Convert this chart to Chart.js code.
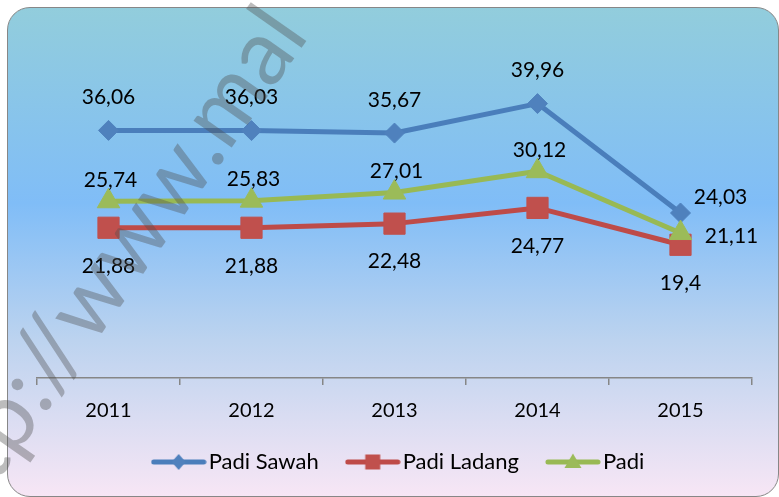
<!DOCTYPE html>
<html lang="id">
<head>
<meta charset="utf-8">
<title>Produktivitas Padi 2011-2015</title>
<script src="https://cdn.jsdelivr.net/npm/chart.js@4.4.1/dist/chart.umd.min.js"></script>
<style>
    html, body { margin: 0; padding: 0; background: #ffffff; }
    .wrap { position: relative; width: 779px; height: 497px; overflow: hidden; }
    .bingkai {
        position: absolute;
        left: 7px;
        top: 7px;
        width: 772px;
        height: 490px;
        box-sizing: border-box;
        border: 1.5px solid #878787;
        border-radius: 23px;
        background: linear-gradient(to bottom, #92cddc 0%, #80bdf7 40%, #bcd3ef 68%, #f7e6f5 100%);
    }
    #grafik { position: absolute; left: 0; top: 0; }
</style>
</head>
<body>
<div class="wrap">
    <div class="bingkai"></div>
    <canvas id="grafik" width="779" height="497"></canvas>
</div>
<script>
// Data grafik
const tahun = ['2011', '2012', '2013', '2014', '2015'];
const padiSawah = [36.06, 36.03, 35.67, 39.96, 24.03];
const padiLadang = [21.88, 21.88, 22.48, 24.77, 19.4];
const padi = [25.74, 25.83, 27.01, 30.12, 21.11];

const FONT = 'Lato';

// Angka pakai koma desimal
function formatKoma(v) {
    return String(v).replace('.', ',');
}

// Ikon legenda: garis dengan penanda di tengah
function buatIkon(warnaGaris, warnaTanda, bentuk) {
    const c = document.createElement('canvas');
    c.width = 56;
    c.height = 22;
    const g = c.getContext('2d');
    g.strokeStyle = warnaGaris;
    g.lineWidth = 5;
    g.lineCap = 'round';
    g.beginPath();
    g.moveTo(3, 11);
    g.lineTo(53, 11);
    g.stroke();
    g.fillStyle = warnaTanda;
    g.beginPath();
    if (bentuk === 'diamond') {
        g.moveTo(28, 3); g.lineTo(35, 11); g.lineTo(28, 19); g.lineTo(21, 11);
    } else if (bentuk === 'square') {
        g.rect(20.5, 3.5, 15, 15);
    } else {
        g.moveTo(28, 2.5); g.lineTo(36.5, 17); g.lineTo(19.5, 17);
    }
    g.closePath();
    g.fill();
    return c;
}

const ikonLegenda = [
    buatIkon('#4a7ebb', '#4f81bd', 'diamond'),
    buatIkon('#be4b48', '#c0504d', 'square'),
    buatIkon('#98b954', '#9bbb59', 'triangle')
];

// Label nilai di tiap titik
const labelNilai = {
    id: 'labelNilai',
    afterDatasetsDraw(chart, args, opts) {
        const ctx = chart.ctx;
        ctx.save();
        ctx.font = '21px ' + FONT;
        ctx.fillStyle = '#000000';
        ctx.textAlign = 'center';
        ctx.textBaseline = 'middle';
        chart.data.datasets.forEach((ds, i) => {
            const meta = chart.getDatasetMeta(i);
            const pos = opts.posisi[i];
            meta.data.forEach((pt, j) => {
                const off = (j === meta.data.length - 1 && pos.akhir) ? pos.akhir : pos.umum;
                ctx.fillText(formatKoma(ds.data[j]), pt.x + off.dx, pt.y + off.dy);
            });
        });
        ctx.restore();
    }
};

// Legenda di bawah: ikon garis + nama seri
const legendaBawah = {
    id: 'legendaBawah',
    afterDraw(chart, args, opts) {
        const ctx = chart.ctx;
        ctx.save();
        ctx.font = '22px ' + FONT;
        ctx.fillStyle = '#000000';
        ctx.textBaseline = 'middle';
        ctx.textAlign = 'left';
        const items = chart.data.datasets.map((ds, i) => ({
            teks: ds.label,
            ikon: ikonLegenda[i],
            lebar: 54 + opts.celah + ctx.measureText(ds.label).width
        }));
        const total = items.reduce((a, it) => a + it.lebar, 0) + opts.jarak * (items.length - 1);
        let x = opts.tengah - total / 2;
        items.forEach(it => {
            ctx.drawImage(it.ikon, x - 1, opts.y - 11);
            ctx.fillText(it.teks, x + 54 + opts.celah, opts.y);
            x += it.lebar + opts.jarak;
        });
        ctx.restore();
    }
};

// Tanda air miring di atas grafik
const tandaAir = {
    id: 'tandaAir',
    afterDraw(chart) {
        const ctx = chart.ctx;
        ctx.save();
        ctx.font = '92px ' + FONT;
        ctx.fillStyle = 'rgba(80, 80, 80, 0.38)';
        ctx.textBaseline = 'alphabetic';
        ctx.textAlign = 'left';
        ctx.translate(223, 160);
        ctx.rotate(-55 * Math.PI / 180);
        const kiri = ctx.measureText('http://www').width + ctx.measureText('.').width / 2;
        ctx.fillText('http://www.mal', -kiri, 0);
        ctx.restore();
    }
};

const ctx = document.getElementById('grafik').getContext('2d');
new Chart(ctx, {
    type: 'line',
    data: {
        labels: tahun,
        datasets: [
            {
                label: 'Padi Sawah',
                data: padiSawah,
                borderColor: '#4a7ebb',
                backgroundColor: '#4f81bd',
                pointBackgroundColor: '#4f81bd',
                pointBorderColor: '#4f81bd',
                pointStyle: 'rectRot',
                pointRadius: 10,
                order: 2
            },
            {
                label: 'Padi Ladang',
                data: padiLadang,
                borderColor: '#be4b48',
                backgroundColor: '#c0504d',
                pointBackgroundColor: '#c0504d',
                pointBorderColor: '#c0504d',
                pointStyle: 'rect',
                pointRadius: 15,
                order: 1
            },
            {
                label: 'Padi',
                data: padi,
                borderColor: '#98b954',
                backgroundColor: '#9bbb59',
                pointBackgroundColor: '#9bbb59',
                pointBorderColor: '#9bbb59',
                pointStyle: 'triangle',
                pointRadius: 13,
                order: 0
            }
        ]
    },
    options: {
        responsive: false,
        devicePixelRatio: 1,
        animation: false,
        datasets: {
            line: {
                borderWidth: 5,
                borderJoinStyle: 'round',
                borderCapStyle: 'round',
                pointBorderWidth: 1,
                pointHoverRadius: 10,
                tension: 0
            }
        },
        layout: {
            padding: { left: 37, right: 27, top: 69, bottom: 60 }
        },
        scales: {
            x: {
                offset: true,
                grid: {
                    offset: true,
                    drawOnChartArea: false,
                    drawTicks: true,
                    tickLength: 7,
                    color: '#868686',
                    lineWidth: 1.5
                },
                border: { display: true, color: '#868686', width: 1.5 },
                ticks: {
                    color: '#000000',
                    padding: 14,
                    font: { family: FONT, size: 20 }
                }
            },
            y: {
                display: false,
                min: 0,
                max: 45
            }
        },
        plugins: {
            tooltip: { enabled: false },
            legend: { display: false },
            labelNilai: {
                posisi: [
                    { umum: { dx: 0, dy: -33 }, akhir: { dx: 40, dy: -16 } },
                    { umum: { dx: 0, dy: 38 } },
                    { umum: { dx: 2, dy: -21 }, akhir: { dx: 51, dy: 3 } }
                ]
            },
            legendaBawah: { tengah: 398, y: 462, celah: 3, jarak: 27 }
        }
    },
    plugins: [labelNilai, legendaBawah, tandaAir]
});
</script>
</body>
</html>
